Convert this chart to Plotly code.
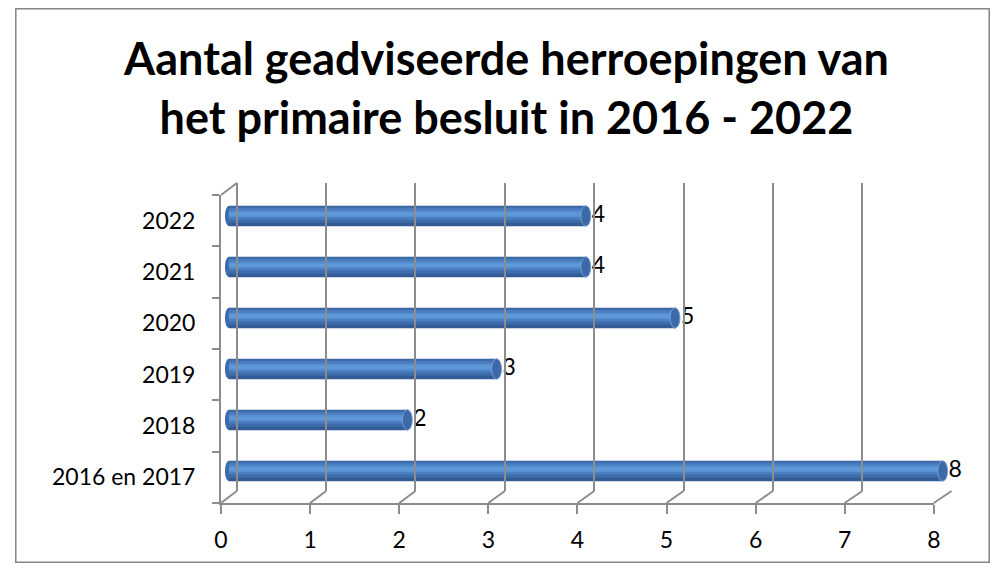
import plotly.graph_objects as go

categories = ["2016 en 2017", "2018", "2019", "2020", "2021", "2022"]
values = [8, 2, 3, 5, 4, 4]
x_ticks = [0, 1, 2, 3, 4, 5, 6, 7, 8]
title_lines = ["Aantal geadviseerde herroepingen van", "het primaire besluit in 2016 - 2022"]

# page has an 8px body margin; figure is sized to fit the 1005x571 window
OFF = 8
W, H = 1005 - 2 * OFF, 571 - 2 * OFF
FONT = "Lato"
GRID = "#8c8c8c"

def px(x):
    return (x - OFF) / W

def py(y):
    return 1 - (y - OFF) / H

# pixel layout (page coordinates)
bar_x0, bar_scale = 225, 90.5          # pixel of value 0, pixels per unit
bar_range = (-0.15, 8.4)
bar_y = (190.5, 496.5)
front_x = (217, 940)
front_y = (195, 503)
back_x = (233, 958)
back_y = (183, 491)

fig = go.Figure()

# cylinder layers (width, offset, color)
layers = [
    (0.40, -0.20, "#335b95"),
    (0.32, -0.13, "#3f6dab"),
    (0.22, -0.07, "#4b7fc1"),
    (0.12, -0.02, "#5890d4"),
    (0.05, 0.01, "#619ad9"),
]
for w, off, col in layers:
    fig.add_trace(go.Bar(
        x=values, y=categories, orientation="h",
        width=[w] * len(values), offset=[off] * len(values),
        marker=dict(color=col, line=dict(width=0)),
        xaxis="x", yaxis="y", hoverinfo="skip", showlegend=False,
    ))

# data labels
fig.add_trace(go.Scatter(
    x=values, y=categories, mode="text", cliponaxis=False,
    text=[f"\u00a0{v}" for v in values], textposition="middle right",
    textfont=dict(family=FONT, size=23, color="black"),
    xaxis="x", yaxis="y", hoverinfo="skip", showlegend=False,
))

# invisible traces to activate label and grid axes
fig.add_trace(go.Scatter(x=[0] * len(categories), y=categories, mode="markers",
                         marker=dict(opacity=0), xaxis="x2", yaxis="y2",
                         hoverinfo="skip", showlegend=False))
fig.add_trace(go.Scatter(x=[0, 8], y=[0, 1], mode="markers",
                         marker=dict(opacity=0), xaxis="x3", yaxis="y3",
                         hoverinfo="skip", showlegend=False))

shapes = []
# bar caps (rounded start, elliptical end)
for i, v in enumerate(values):
    shapes.append(dict(type="circle", xref="x", yref="y", layer="below",
                       x0=-0.045, x1=0.045, y0=i - 0.2, y1=i + 0.2,
                       fillcolor="#3f6dab", line=dict(width=0)))
    shapes.append(dict(type="circle", xref="x", yref="y",
                       x0=v - 0.055, x1=v + 0.055, y0=i - 0.2, y1=i + 0.2,
                       fillcolor="#3d69a6", line=dict(color="#6e9edb", width=1)))

# floor diagonals
fsc = (front_x[1] - front_x[0]) / (x_ticks[-1] - x_ticks[0])
bsc = (back_x[1] - back_x[0]) / (x_ticks[-1] - x_ticks[0])
for t in x_ticks:
    shapes.append(dict(type="line", xref="paper", yref="paper",
                       x0=px(front_x[0] + fsc * t), y0=py(front_y[1]),
                       x1=px(back_x[0] + bsc * t), y1=py(back_y[1]),
                       line=dict(color=GRID, width=2)))
# top-left diagonal
shapes.append(dict(type="line", xref="paper", yref="paper",
                   x0=px(front_x[0]), y0=py(front_y[0]),
                   x1=px(back_x[0]), y1=py(back_y[0]),
                   line=dict(color=GRID, width=2)))
# outer border
shapes.append(dict(type="rect", xref="paper", yref="paper",
                   x0=0.8 / W, y0=0.8 / H, x1=1 - 0.8 / W, y1=1 - 0.8 / H,
                   line=dict(color="#868686", width=1.5), fillcolor="rgba(0,0,0,0)"))

tickfont = dict(family=FONT, size=23, color="black")

fig.update_layout(
    width=W, height=H,
    margin=dict(l=0, r=0, t=0, b=0),
    paper_bgcolor="white", plot_bgcolor="rgba(0,0,0,0)",
    barmode="overlay",
    font=dict(family=FONT, size=23, color="black"),
    shapes=shapes,
    annotations=[dict(
        text="<br>".join(title_lines), xref="paper", yref="paper",
        x=px(506), y=py(88), xanchor="center", yanchor="middle",
        showarrow=False, font=dict(family=FONT, size=45, color="black", weight="bold"),
    )],
    # bars
    xaxis=dict(domain=[px(bar_x0 + bar_scale * bar_range[0]),
                       px(bar_x0 + bar_scale * bar_range[1])],
               range=list(bar_range), visible=False),
    yaxis=dict(domain=[py(bar_y[1]), py(bar_y[0])], type="category",
               categoryorder="array", categoryarray=categories,
               range=[-0.5, 5.5], visible=False),
    # front axes (labels)
    xaxis2=dict(domain=[px(front_x[0]), px(front_x[1])], range=[0, 8],
                anchor="y2", tickvals=x_ticks, ticks="outside", ticklen=9,
                tickcolor=GRID, tickwidth=2, showline=True, linecolor=GRID, linewidth=2,
                showgrid=False, zeroline=False, tickfont=tickfont, ticklabelstandoff=6),
    yaxis2=dict(domain=[py(front_y[1]), py(front_y[0])], type="category",
                categoryorder="array", categoryarray=categories, range=[-0.5, 5.5],
                anchor="x2", tickson="boundaries", ticks="outside", ticklen=7,
                tickcolor=GRID, tickwidth=2, showline=True, linecolor=GRID, linewidth=2,
                showgrid=False, tickfont=tickfont, ticklabelstandoff=19),
    # back wall grid
    xaxis3=dict(domain=[px(back_x[0]), px(back_x[1])], range=[0, 8], anchor="y3",
                tickvals=x_ticks, showgrid=True, gridcolor=GRID, gridwidth=2,
                zeroline=True, zerolinecolor=GRID, zerolinewidth=2,
                showticklabels=False, ticks=""),
    yaxis3=dict(domain=[py(back_y[1]), py(back_y[0])], range=[0, 1], anchor="x3",
                visible=False),
)

fig.write_html("out.html")
